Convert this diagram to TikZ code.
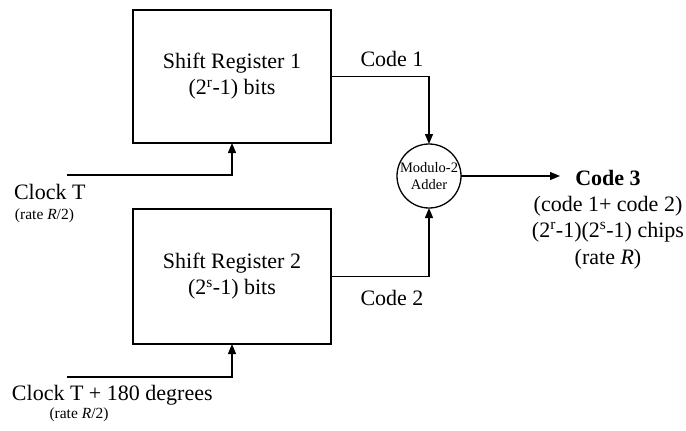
\documentclass[tikz,border=0pt]{standalone}
\usepackage{fontspec}
\setmainfont{Liberation Serif}
\usetikzlibrary{arrows.meta}
\begin{document}
\begin{tikzpicture}[x=1pt,y=-1pt,
  every node/.style={inner sep=0pt, outer sep=0pt},
  wire/.style={line width=1.3pt},
  arr/.style={wire, -{Triangle[length=10pt,width=8pt]}},
  regbox/.style={draw, line width=1.3pt, minimum width=198pt, align=center,
                 font=\fontsize{22}{26}\selectfont},
  big/.style={font=\fontsize{22}{26}\selectfont},
  small/.style={font=\fontsize{15.5}{18}\selectfont},
  adderlbl/.style={font=\fontsize{14.5}{17}\selectfont, align=center}]
\useasboundingbox (0,0) rectangle (686,431);

% shift registers
\node[regbox, minimum height=133pt] (sr1) at (232,76.5)
  {Shift Register 1\\(2\textsuperscript{r}-1) bits};
\node[regbox, minimum height=135pt] (sr2) at (232,276.5)
  {Shift Register 2\\(2\textsuperscript{s}-1) bits};

% modulo-2 adder
\node[draw, circle, line width=1.3pt, minimum size=64pt, adderlbl] (adder) at (429,176)
  {Modulo-2\\Adder};

% code labels
\node[big] (c1) at (392,59) {Code 1};
\node[big] (c2) at (392,298) {Code 2};

% output
\coordinate (out) at (560,176);
\node[font=\fontsize{22}{26}\selectfont\bfseries] (c3) at (608,178) {Code 3};
\node[big] (c3a) at (608,206) {(code 1+ code 2)};
\node[big] (c3b) at (608,232) {(2\textsuperscript{r}-1)(2\textsuperscript{s}-1) chips};
\node[big] (c3c) at (608,259) {(rate \textit{R})};

% clocks
\coordinate (clk1) at (67,175);
\coordinate (clk2) at (67,377);
\node[big, anchor=west] (ct1) at (14,192) {Clock T};
\node[small, anchor=west] (rt1) at (15,216) {(rate \textit{R}/2)};
\node[big, anchor=west] (ct2) at (12,395) {Clock T + 180 degrees};
\node[small] (rt2) at (79,415) {(rate \textit{R}/2)};

% connectors
\draw[arr] (sr1.east) -| (adder.north);
\draw[arr] (sr2.east) -| (adder.south);
\draw[arr] (adder.east) -- (out);
\draw[arr] (clk1) -| (sr1.south);
\draw[arr] (clk2) -| (sr2.south);
\end{tikzpicture}
\end{document}
